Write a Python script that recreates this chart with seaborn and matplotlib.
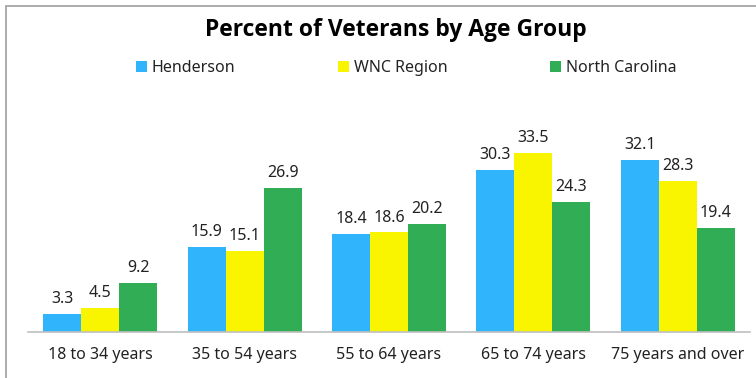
import matplotlib
matplotlib.use("Agg")
import matplotlib.pyplot as plt
from matplotlib.patches import Rectangle
import seaborn as sns
import pandas as pd

age_groups = ["18 to 34 years", "35 to 54 years", "55 to 64 years",
              "65 to 74 years", "75 years and over"]
henderson = [3.3, 15.9, 18.4, 30.3, 32.1]
wnc_region = [4.5, 15.1, 18.6, 33.5, 28.3]
north_carolina = [9.2, 26.9, 20.2, 24.3, 19.4]
series_names = ["Henderson", "WNC Region", "North Carolina"]
colors = ["#30B4FC", "#F9F500", "#30AD55"]

rows = []
for name, vals in zip(series_names, [henderson, wnc_region, north_carolina]):
    for g, v in zip(age_groups, vals):
        rows.append({"Age": g, "Region": name, "Percent": v})
df = pd.DataFrame(rows)

sns.set_theme(style="white")
plt.rcParams["font.family"] = ["Noto Sans", "DejaVu Sans"]

W, H = 756, 378
fig = plt.figure(figsize=(W / 100, H / 100), dpi=100)
ax = fig.add_axes([28 / W, 1 - 332 / H, (750 - 28) / W, (332 - 118) / H])

sns.barplot(data=df, x="Age", y="Percent", hue="Region", palette=colors,
            width=0.79, gap=0, saturation=1, linewidth=0, edgecolor="none",
            ax=ax, legend=True)

for cont in ax.containers:
    ax.bar_label(cont, fmt="%.1f", padding=5, fontsize=11.5, color="#222222")

ax.set_ylim(0, 40)
ax.set_xlim(-0.5, 4.5)
ax.set_xlabel("")
ax.set_ylabel("")
ax.set_yticks([])
for s in ["top", "right", "left"]:
    ax.spines[s].set_visible(False)
ax.spines["bottom"].set_color("#BFBFBF")
ax.spines["bottom"].set_linewidth(1.2)
ax.tick_params(axis="x", length=0, pad=11, labelsize=11.5, labelcolor="#222222")

leg = ax.legend(loc="center", bbox_to_anchor=(406 / W, 1 - 68 / H),
                bbox_transform=fig.transFigure, ncol=3, frameon=False,
                fontsize=11.5, handlelength=0.7, handleheight=0.7,
                handletextpad=0.3, columnspacing=6.4)
for t in leg.get_texts():
    t.set_color("#222222")

fig.text(396 / W, 1 - 30 / H, "Percent of Veterans by Age Group",
         ha="center", va="center", fontsize=16.5, fontweight="bold",
         family=["Open Sans", "DejaVu Sans"], color="black")

# outer chart frame
fig.patches.append(Rectangle((6 / W, -0.1), 1.2, 1 - 6 / H + 0.1,
                             transform=fig.transFigure, fill=False,
                             edgecolor="#A6A6A6", linewidth=1.3))

fig.savefig("out.png", dpi=100)
